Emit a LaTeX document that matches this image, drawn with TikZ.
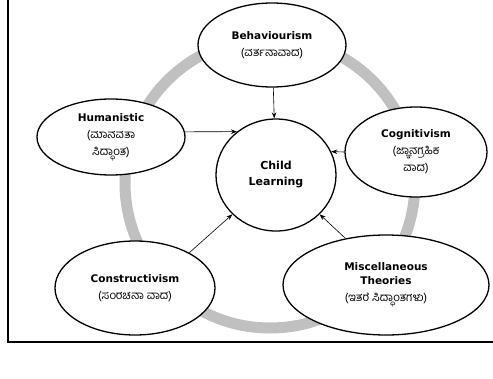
\documentclass[tikz,border=0pt]{standalone}
\usepackage{fontspec}
\setmainfont{DejaVu Sans}
\newfontfamily\kanfont[Script=Kannada]{Hind Mysuru}
\usepackage{xcolor}
\usepackage{tikz}
\usetikzlibrary{arrows.meta, shapes.geometric}
\definecolor{ringgray}{RGB}{192,192,192}
\newcommand{\kn}[1]{{\kanfont\mdseries\fontsize{11.5}{17}\selectfont #1}}

\begin{document}
\begin{tikzpicture}[x=1pt, y=-1pt,
  theory/.style={draw, ellipse, fill=white, line width=1.3pt, inner sep=0pt,
    align=center, font=\bfseries\fontsize{10.5}{17}\selectfont},
  link/.style={-{Stealth[length=6pt,width=4.5pt]}, line width=0.6pt}]
\useasboundingbox (0,0) rectangle (493,378);
% Frame
\draw[line width=2pt] (8,0) -- (8,342) -- (493,342);
% Grey ring
\draw[ringgray, line width=11pt] (270,183) circle (145pt);
% Theories
\node[theory, minimum width=148pt, minimum height=84pt] (beh) at (272,45)
  {Behaviourism\\\kn{(ವರ್ತನಾವಾದ)}};
\node[theory, minimum width=148pt, minimum height=76pt] (hum) at (111,137)
  {Humanistic\\\kn{(ಮಾನವತಾ}\\\kn{ಸಿದ್ಧಾಂತ)}};
\node[theory, minimum width=142pt, minimum height=90pt] (cog) at (416,152)
  {Cognitivism\\\kn{(ಜ್ಞಾನಗ್ರಹಿಕ}\\\kn{ವಾದ)}};
\node[theory, minimum width=160pt, minimum height=94pt] (con) at (135,288)
  {Constructivism\\\kn{(ಸಂರಚನಾ ವಾದ)}};
\node[theory, minimum width=206pt, minimum height=100pt] (misc) at (386,285)
  {Miscellaneous\\[-3pt]Theories\\\kn{(ಇತರೆ ಸಿದ್ಧಾಂತಗಳು)}};
% Centre
\node[theory, minimum width=120pt, minimum height=112pt,
  font=\bfseries\fontsize{11}{16}\selectfont] (child) at (276,175)
  {Child\\Learning};
% Arrows into the centre
\draw[link] (beh) -- (child);
\draw[link] (hum.4) -- (child.132);
\draw[link] (cog.west) -- (child.23);
\draw[link] (con.33) -- (child.222);
\draw[link] (misc.131) -- (child.318);
\end{tikzpicture}
\end{document}
